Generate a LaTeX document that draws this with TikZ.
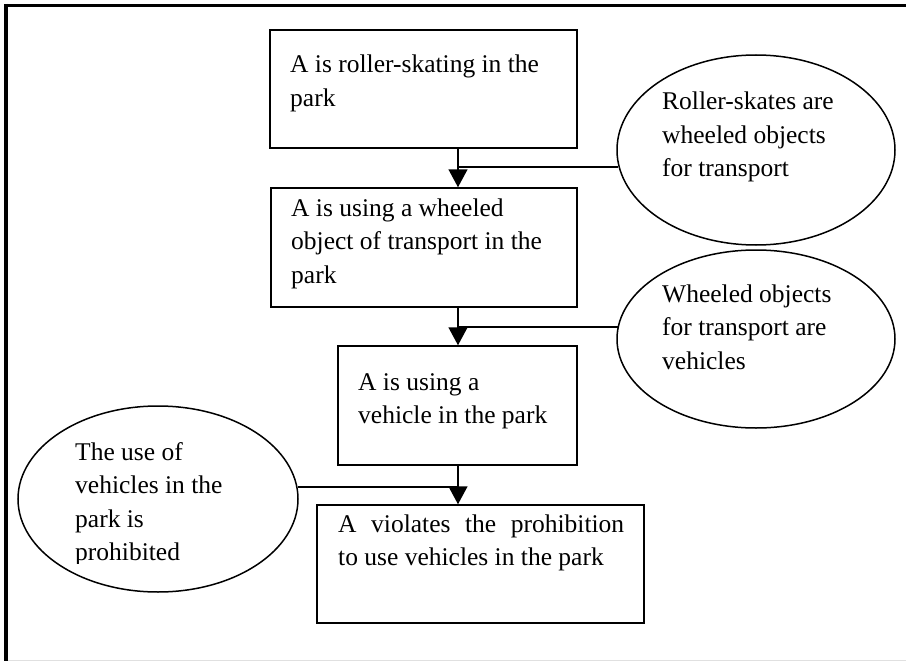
\documentclass[tikz,border=0pt]{standalone}
\usepackage{fontspec}
\setmainfont{Liberation Serif}
\usetikzlibrary{arrows.meta,shapes.geometric}

% multi-line text block whose reference point is the first baseline
\newcommand\ptxt[1]{\parbox[t]{320pt}{\raggedright #1}}

\tikzset{
  stepbox/.style={draw, line width=1.5pt, rectangle, inner sep=0pt},
  bubble/.style={draw, line width=1.5pt, ellipse, inner sep=0pt},
  txt/.style={inner sep=0pt, anchor=base west,
              font=\fontsize{25.5}{33.5}\selectfont},
  link/.style={line width=1.5pt},
  flow/.style={line width=1.5pt, -{Triangle[width=19pt,length=18pt]}},
}

\begin{document}
\begin{tikzpicture}[x=1pt, y=-1pt]
  \useasboundingbox (0,0) rectangle (906,661);
  \fill[white] (0,0) rectangle (906,661);

  % outer frame
  \draw[line width=3.5pt] (4,5.5) -- (906,5.5);
  \draw[line width=4pt] (6,4) -- (6,661);
  \draw[line width=1pt, black!12] (8,660) -- (906,660);

  % reasoning steps
  \node[stepbox, minimum width=307pt, minimum height=118pt] (b1) at (423.5,89) {};
  \node[stepbox, minimum width=306pt, minimum height=119pt] (b2) at (424,247.5) {};
  \node[stepbox, minimum width=239pt, minimum height=119pt] (b3) at (457.5,405.5) {};
  \node[stepbox, minimum width=327pt, minimum height=118pt] (b4) at (480.5,564) {};

  \node[txt] (t1) at (290,73) {\ptxt{A is roller-skating in the\\park}};
  \node[txt] (t2) at (291,216) {\ptxt{A is using a wheeled\\object of transport in the\\park}};
  \node[txt] (t3) at (358,390) {\ptxt{A is using a\\vehicle in the park}};
  \node[txt] (t4) at (338,532) {\ptxt{\makebox[286pt][s]{A violates the prohibition}\\to use vehicles in the park}};

  % premises
  \node[bubble, minimum width=278pt, minimum height=190pt] (e1) at (756,150) {};
  \node[bubble, minimum width=278pt, minimum height=178pt] (e2) at (756,339) {};
  \node[bubble, minimum width=280pt, minimum height=186pt] (e3) at (158,499) {};

  \node[txt] (s1) at (662,110) {\ptxt{Roller-skates are\\wheeled objects\\for transport}};
  \node[txt] (s2) at (662,302) {\ptxt{Wheeled objects\\for transport are\\vehicles}};
  \begin{scope}
    \clip (20,400) rectangle (300,563);
    \node[txt] (s3) at (75,460) {\ptxt{The use of\\vehicles in the\\park is\\prohibited}};
  \end{scope}

  % inference chain
  \coordinate (col) at (458,0);
  \draw[flow] (b1.south -| col) -- (b2.north -| col);
  \draw[flow] (b2.south -| col) -- (b3.north -| col);
  \draw[flow] (b3.south -| col) -- (b4.north -| col);

  \draw[link] (e1.187.5) -- (e1.187.5 -| col);
  \draw[link] (e2.175.4) -- (e2.175.4 -| col);
  \draw[link] (e3.5.5) -- (e3.5.5 -| col);
\end{tikzpicture}
\end{document}
